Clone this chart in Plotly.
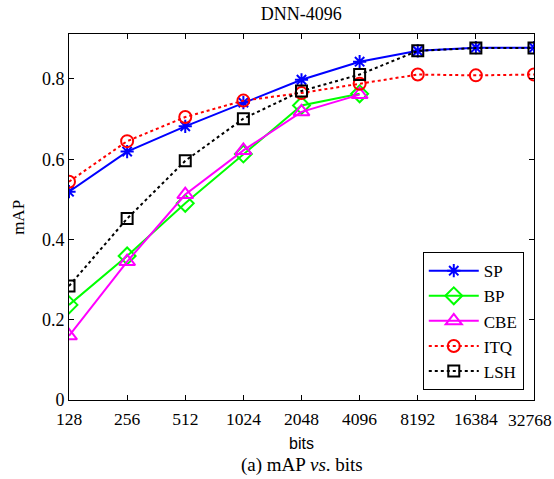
import math
import plotly.graph_objects as go

# Code lengths (bits) and mean average precision for each hashing method
bits = [128, 256, 512, 1024, 2048, 4096, 8192, 16384, 32768]
bit_labels = [str(b) for b in bits]

sp = [0.519, 0.619, 0.682, 0.741, 0.798, 0.843, 0.870, 0.878, 0.878]
bp = [0.237, 0.359, 0.490, 0.613, 0.734, 0.763]
cbe = [0.160, 0.345, 0.512, 0.622, 0.718, 0.761]
itq = [0.544, 0.645, 0.705, 0.746, 0.765, 0.788, 0.811, 0.809, 0.811]
lsh = [0.284, 0.452, 0.596, 0.701, 0.770, 0.811, 0.870, 0.877, 0.877]

yticks = [0, 0.2, 0.4, 0.6, 0.8]
ytick_labels = ["0", "0.2", "0.4", "0.6", "0.8"]

SERIF = "Liberation Serif, Times New Roman, serif"
SANS = "Liberation Sans, Arial, sans-serif"
TICK_SIZE = 17.5

series = [
    ("SP", sp, "#0000ff", "solid", "asterisk-open", 11),
    ("BP", bp, "#00ff00", "solid", "diamond-open", 13),
    ("CBE", cbe, "#ff00ff", "solid", "triangle-up-open", 14),
    ("ITQ", itq, "#ff0000", "dot", "circle-open", 12),
    ("LSH", lsh, "#000000", "dot", "square-open", 11),
]

fig = go.Figure()
for name, vals, color, dash, symbol, size in series:
    fig.add_trace(go.Scatter(
        x=bits[:len(vals)], y=vals, name=name, mode="lines+markers",
        line=dict(color=color, width=2, dash=dash),
        marker=dict(symbol=symbol, size=size, color=color,
                    line=dict(color=color, width=2)),
    ))

axis_common = dict(
    showline=True, linecolor="black", linewidth=1, mirror="ticks",
    ticks="inside", ticklen=5, tickcolor="black", showgrid=False,
    zeroline=False, ticklabeloverflow="allow", automargin=False,
)

# The rightmost x label sits flush with the page edge, so it is placed
# as a right-anchored annotation at the last tick instead of a centred one.
x_ticktext = bit_labels[:-1] + [""]

fig.update_layout(
    width=554, height=479,
    margin=dict(l=69, r=20, t=34, b=79),
    paper_bgcolor="white", plot_bgcolor="white",
    title=dict(text="DNN-4096", x=0.5437, xanchor="center",
               y=1 - 14 / 479, yanchor="middle", yref="container",
               font=dict(family=SERIF, size=18, color="black")),
    xaxis=dict(type="log", range=[2.10720, 4.51546],
               tickvals=bits, ticktext=x_ticktext, ticklabelstandoff=3,
               tickfont=dict(family=SERIF, size=TICK_SIZE, color="black"),
               **axis_common),
    yaxis=dict(range=[0, 0.912], tickvals=yticks, ticktext=ytick_labels,
               tickfont=dict(family=SERIF, size=18, color="black"),
               **axis_common),
    legend=dict(x=0.978, y=0.027, xanchor="right", yanchor="bottom",
                bgcolor="white", bordercolor="black", borderwidth=1,
                font=dict(family=SERIF, size=17, color="black"),
                itemwidth=50, tracegroupgap=0),
    showlegend=True,
    annotations=[
        dict(text=bit_labels[-1], x=math.log10(bits[-1]), y=0,
             xref="x", yref="paper", showarrow=False,
             xanchor="right", yanchor="top", xshift=20, yshift=-8,
             font=dict(family=SERIF, size=TICK_SIZE, color="black")),
        dict(text="bits", x=0.5, y=-0.12, xref="paper", yref="paper",
             showarrow=False, xanchor="center", yanchor="middle",
             font=dict(family=SANS, size=16, color="black")),
        dict(text="(a) mAP <i>vs</i>. bits", x=0.5, y=-0.178,
             xref="paper", yref="paper", showarrow=False,
             xanchor="center", yanchor="middle",
             font=dict(family=SERIF, size=19, color="black")),
        dict(text="mAP", x=-0.11, y=0.5, xref="paper", yref="paper",
             showarrow=False, textangle=-90, xanchor="center",
             yanchor="middle",
             font=dict(family=SERIF, size=17, color="black")),
    ],
)

fig.write_html("out.html")
